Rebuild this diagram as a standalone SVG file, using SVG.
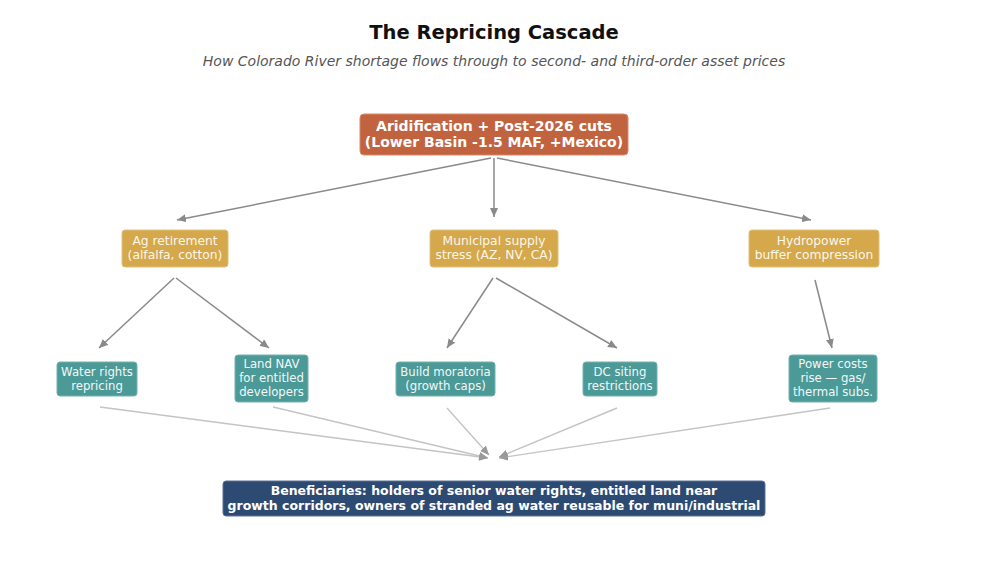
<svg xmlns="http://www.w3.org/2000/svg" width="988" height="588" viewBox="0 0 988 588">
<style>
.title{font-family:"DejaVu Sans",sans-serif;font-weight:bold;font-size:19.5px;fill:#111;text-anchor:middle}
.sub{font-family:"DejaVu Sans",sans-serif;font-style:italic;font-size:14px;fill:#555;text-anchor:middle}
.t{font-family:"DejaVu Sans",sans-serif;fill:#fff;text-anchor:middle}
.top{font-size:14px;font-weight:bold}
.mid{font-size:12.3px;fill:#fbf6ea}
.low{font-size:11.7px;fill:#f2f8f8}
.ben{font-size:12.5px;font-weight:bold}
.ntop{fill:#C2633F;stroke:#D9876A;stroke-width:1}
.nmid{fill:#D4A84B;stroke:#E2C07A;stroke-width:1}
.nlow{fill:#4B9A98;stroke:#72B3B1;stroke-width:1}
.nben{fill:#2D4A73;stroke:#5B7397;stroke-width:1}
.a1{stroke:#8a8a8a;stroke-width:1.5;fill:none;marker-end:url(#ah)}
.a2{stroke:#c4c4c4;stroke-width:1.4;fill:none;marker-end:url(#ah2)}
</style>
<defs>
<marker id="ah" markerUnits="userSpaceOnUse" markerWidth="10" markerHeight="8" refX="9" refY="4" orient="auto"><path d="M0,0 L9,4 L0,8 Z" fill="#8a8a8a"/></marker>
<marker id="ah2" markerUnits="userSpaceOnUse" markerWidth="10" markerHeight="8" refX="9" refY="4" orient="auto"><path d="M0,0 L9,4 L0,8 Z" fill="#9a9a9a"/></marker>
</defs>
<rect width="988" height="588" fill="#fff"/>
<text class="title" x="494" y="39">The Repricing Cascade</text>
<text class="sub" x="494" y="66">How Colorado River shortage flows through to second- and third-order asset prices</text>

<g id="connectors">
<line class="a1" x1="491" y1="158" x2="177" y2="220"/>
<line class="a1" x1="494" y1="158" x2="494" y2="217"/>
<line class="a1" x1="497" y1="158" x2="811" y2="220"/>
<line class="a1" x1="174" y1="278" x2="99" y2="348"/>
<line class="a1" x1="176" y1="278" x2="269" y2="348"/>
<line class="a1" x1="493" y1="278" x2="447" y2="348"/>
<line class="a1" x1="496" y1="278" x2="617" y2="348"/>
<line class="a1" x1="815" y1="280" x2="832" y2="348"/>
<line class="a2" x1="100" y1="407" x2="488" y2="458"/>
<line class="a2" x1="273" y1="407" x2="488" y2="458"/>
<line class="a2" x1="447" y1="408" x2="489" y2="455"/>
<line class="a2" x1="617" y1="408" x2="499" y2="457"/>
<line class="a2" x1="830" y1="408" x2="499" y2="458"/>
</g>

<g id="n-top"><rect class="ntop" x="360" y="114" width="268" height="41" rx="4"/>
<text class="t top" x="494" y="131">Aridification + Post-2026 cuts</text>
<text class="t top" x="494" y="147">(Lower Basin -1.5 MAF, +Mexico)</text></g>

<g id="n-ag"><rect class="nmid" x="122" y="230" width="106" height="37" rx="3"/>
<text class="t mid" x="175" y="245">Ag retirement</text>
<text class="t mid" x="175" y="259">(alfalfa, cotton)</text></g>

<g id="n-muni"><rect class="nmid" x="430" y="230" width="128" height="37" rx="3"/>
<text class="t mid" x="494" y="245">Municipal supply</text>
<text class="t mid" x="494" y="259">stress (AZ, NV, CA)</text></g>

<g id="n-hydro"><rect class="nmid" x="749" y="230" width="130" height="37" rx="3"/>
<text class="t mid" x="814" y="245">Hydropower</text>
<text class="t mid" x="814" y="259">buffer compression</text></g>

<g id="n-water"><rect class="nlow" x="57" y="362" width="80" height="34" rx="3"/>
<text class="t low" x="97" y="376">Water rights</text>
<text class="t low" x="97" y="390">repricing</text></g>

<g id="n-land"><rect class="nlow" x="235" y="355" width="73" height="47" rx="3"/>
<text class="t low" x="271.5" y="368">Land NAV</text>
<text class="t low" x="271.5" y="382">for entitled</text>
<text class="t low" x="271.5" y="396">developers</text></g>

<g id="n-build"><rect class="nlow" x="396" y="362" width="99" height="34" rx="3"/>
<text class="t low" x="445.5" y="376">Build moratoria</text>
<text class="t low" x="445.5" y="390">(growth caps)</text></g>

<g id="n-dc"><rect class="nlow" x="583" y="362" width="74" height="34" rx="3"/>
<text class="t low" x="620" y="376">DC siting</text>
<text class="t low" x="620" y="390">restrictions</text></g>

<g id="n-power"><rect class="nlow" x="789" y="355" width="88" height="47" rx="3"/>
<text class="t low" x="833" y="368">Power costs</text>
<text class="t low" x="833" y="382">rise — gas/</text>
<text class="t low" x="833" y="396">thermal subs.</text></g>

<g id="n-ben"><rect class="nben" x="223" y="481" width="542" height="35" rx="3"/>
<text class="t ben" x="494" y="495">Beneficiaries: holders of senior water rights, entitled land near</text>
<text class="t ben" x="494" y="509.5">growth corridors, owners of stranded ag water reusable for muni/industrial</text></g>
</svg>
